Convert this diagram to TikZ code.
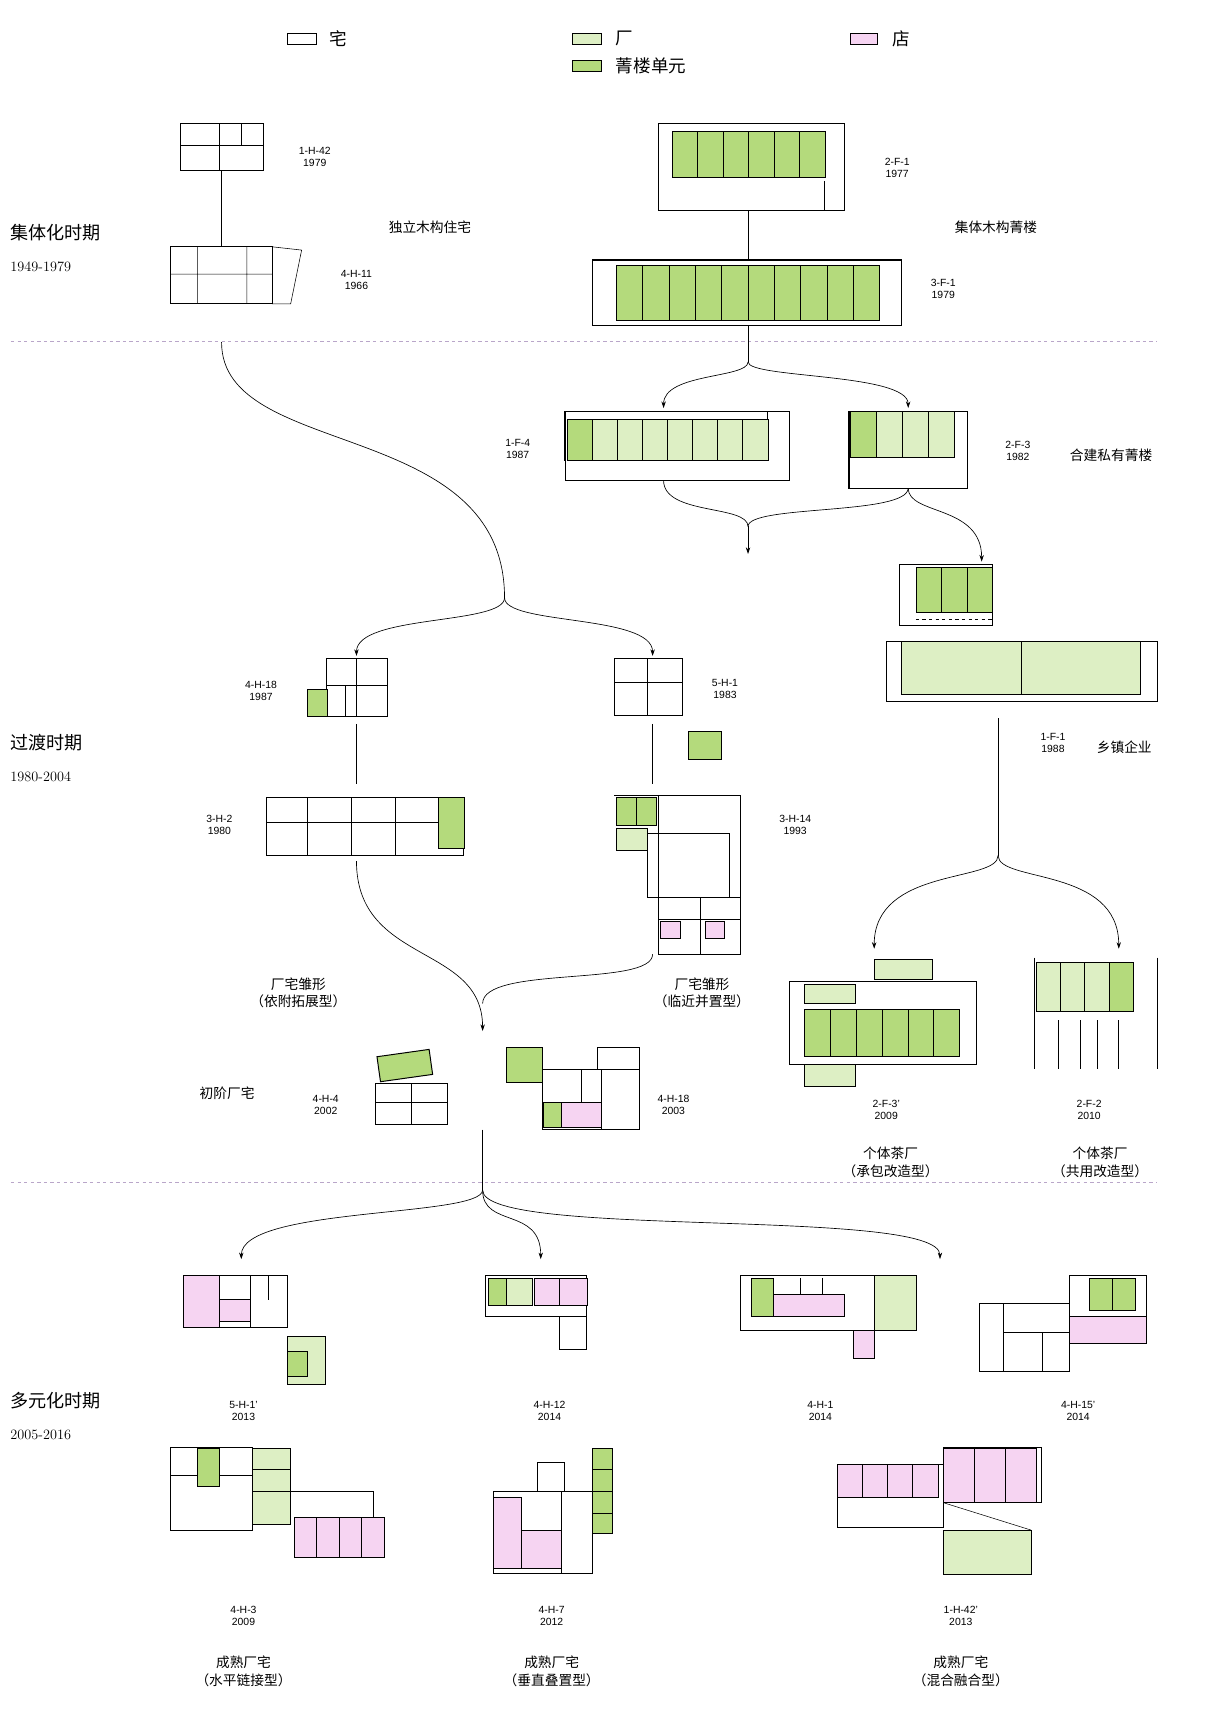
\documentclass[tikz,border=0pt]{standalone}
\usepackage{fontspec}
\newfontfamily\cjk{Noto Sans CJK SC}
\setsansfont{Liberation Sans}
\usetikzlibrary{arrows.meta}
\definecolor{lg}{HTML}{DDEFC4}
\definecolor{dg}{HTML}{B4DA7C}
\definecolor{pk}{HTML}{F6D4F2}
\definecolor{dl}{HTML}{B9A6C9}
\tikzset{
 plan/.style={draw=black,line width=0.9pt},
 wall/.style={draw=black,line width=0.5pt},
 lab/.style={font=\sffamily\fontsize{9.5}{11}\selectfont,align=center},
 cn/.style={font=\cjk\fontsize{12.5}{16}\selectfont,align=center},
 leg/.style={font=\cjk\fontsize{16}{18}\selectfont},
 per/.style={font=\cjk\fontsize{16.5}{18}\selectfont},
 yr/.style={font=\rmfamily\fontsize{13}{15}\selectfont},
 con/.style={line width=0.6pt},
 arr/.style={con,-{Stealth[length=6pt,width=4pt]}},
}
\newcommand\cellrow[6]{%
 \pgfmathsetmacro\cwid{(#3-#1)/#5}%
 \foreach \i in {1,...,#5}{\draw[wall,fill=#6] ({#1+(\i-1)*\cwid},#2) rectangle ({#1+\i*\cwid},#4);}}
\begin{document}
\begin{tikzpicture}[x=1pt,y=-1pt]
\useasboundingbox[fill=white] (0,0) rectangle (1110,1570);
% legend
\draw[wall] (262,30) rectangle (288,40); \node[leg,anchor=west] (l1) at (297,35) {宅};
\draw[wall,fill=lg] (522,30) rectangle (548,40); \node[leg,anchor=west] (l2) at (558,35) {厂};
\draw[wall,fill=dg] (522,55) rectangle (548,65); \node[leg,anchor=west] (l3) at (558,60) {菁楼单元};
\draw[wall,fill=pk] (775,30) rectangle (800,40); \node[leg,anchor=west] (l4) at (810,35) {店};
% periods
\node[per,anchor=west] (p1) at (6,212) {集体化时期}; \node[yr,anchor=west] (y1) at (6,243) {1949-1979};
\node[per,anchor=west] (p2) at (6,677) {过渡时期}; \node[yr,anchor=west] (y2) at (6,708) {1980-2004};
\node[per,anchor=west] (p3) at (6,1277) {多元化时期}; \node[yr,anchor=west] (y3) at (6,1308) {2005-2016};
\draw[dl,dashed,line width=0.6pt] (10,311) -- (1055,311);
\draw[dl,dashed,line width=0.6pt] (10,1078) -- (1055,1078);
% period 1
\draw[plan] (165,113) rectangle (240,155); \draw[wall] (200,113)--(200,155) (165,132)--(240,132) (220,113)--(220,132);
\node[lab] (a1) at (287,143) {1-H-42\\1979};
\draw[plan] (155,225) rectangle (248,277); \draw[wall] (248,225)--(275,228)--(265,277)--(248,277) (155,250)--(248,250) (180,225)--(180,277) (225,225)--(225,277);
\node[lab] (a2) at (325,255) {4-H-11\\1966};
\coordinate (h42b) at (202,155); \coordinate (h11t) at (202,225);
\draw[con] (h42b)--(h11t);
\node[cn] (t1) at (392,207) {独立木构住宅};
\draw[wall] (600,112) rectangle (770,192); \draw[plan] (752,165)--(752,192)--(600,192);
\cellrow{613}{120}{752}{162}{6}{dg}
\node[lab] (a3) at (818,153) {2-F-1\\1977};
\draw[wall] (540,237) rectangle (822,297); \draw[plan] (540,237)--(822,237) (540,297)--(822,297);
\cellrow{562}{242}{802}{292}{10}{dg}
\node[lab] (a4) at (860,263) {3-F-1\\1979};
\coordinate (f1b) at (682,192); \coordinate (f3t) at (682,237);
\draw[con] (f1b)--(f3t);
\node[cn] (t2) at (908,207) {集体木构菁楼};
% period 2
\coordinate (f3b) at (682,297); \coordinate (sp1) at (682,330);
\coordinate (f4t) at (605,372); \coordinate (f23t) at (828,372);
\draw[con] (f3b)--(sp1);
\draw[arr] (sp1) .. controls (682,345) and (605,340) .. (f4t);
\draw[arr] (sp1) .. controls (682,345) and (828,340) .. (f23t);
\draw[wall] (515,375) rectangle (720,438); \draw[plan] (515,420)--(515,375)--(700,375)--(700,420);
\cellrow{517}{382}{700}{420}{8}{lg}
\draw[wall,fill=dg] (517,382) rectangle (540,420);
\node[lab] (a5) at (472,409) {1-F-4\\1987};
\draw[wall] (774,375) rectangle (882,445); \draw[plan] (774,375)--(774,445)--(870,445);
\cellrow{775}{375}{870}{417}{4}{lg}
\draw[wall,fill=dg] (775,375) rectangle (798.75,417);
\node[lab] (a6) at (928,411) {2-F-3\\1982};
\node[cn] (t3) at (1013,415) {合建私有菁楼};
\coordinate (f4b) at (605,438); \coordinate (f23b) at (828,445); \coordinate (mg) at (682,480); \coordinate (mgb) at (682,505);
\draw[con] (f4b) .. controls (605,470) and (682,460) .. (mg);
\draw[con] (f23b) .. controls (828,470) and (682,460) .. (mg);
\draw[arr] (mg)--(mgb);
\coordinate (f11t) at (895,512);
\draw[arr] (f23b) .. controls (828,470) and (895,460) .. (f11t);
% 1-F-1
\draw[plan] (820,515) rectangle (905,570);
\cellrow{835}{517}{905}{558}{3}{dg}
\draw[wall,dashed] (835,565)--(905,565);
\draw[plan] (808,585) rectangle (1055,640);
\cellrow{822}{585}{1040}{633}{2}{lg}
\node[lab] (a7) at (960,677) {1-F-1\\1988};
\node[cn] (t4) at (1025,681) {乡镇企业};
% left branch
\coordinate (h11b) at (202,312); \coordinate (jn) at (460,545);
\draw[con] (h11b) .. controls (202,420) and (460,380) .. (jn);
\coordinate (h18t) at (325,598); \coordinate (h51t) at (595,598);
\draw[arr] (jn) .. controls (460,570) and (325,560) .. (h18t);
\draw[arr] (jn) .. controls (460,570) and (595,560) .. (h51t);
\draw[plan] (298,600) rectangle (353,653); \draw[wall] (298,625)--(353,625) (325,600)--(325,653) (315,625)--(315,653);
\draw[wall,fill=dg] (280,628) rectangle (298,653);
\node[lab] (a8) at (238,630) {4-H-18\\1987};
\draw[wall] (560,600) rectangle (622,652); \draw[wall] (560,622)--(622,622) (590,600)--(590,652);
\node[lab] (a9) at (661,628) {5-H-1\\1983};
\draw[plan,fill=dg] (628,667) rectangle (658,692);
\coordinate (h18b) at (325,660); \coordinate (h32t) at (325,715);
\coordinate (h51b) at (595,660); \coordinate (h14t) at (595,715);
\draw[con] (h18b)--(h32t); \draw[con] (h51b)--(h14t);
\draw[plan] (243,727) rectangle (423,780); \draw[wall] (243,750)--(423,750) (280,727)--(280,780) (320,727)--(320,780) (360,727)--(360,780);
\draw[wall,fill=dg] (400,727) rectangle (423,773);
\node[lab] (a10) at (200,752) {3-H-2\\1980};
\draw[wall] (560,725) -- (675,725) -- (675,870) -- (600,870) -- (600,725);
\draw[wall] (590,760) rectangle (665,818);
\cellrow{562}{727}{598}{752}{2}{dg}
\draw[wall,fill=lg] (562,755) rectangle (590,775);
\draw[plan] (600,818) rectangle (675,870); \draw[wall] (600,838)--(675,838) (638,818)--(638,870);
\draw[wall,fill=pk] (602,840) rectangle (620,855); \draw[wall,fill=pk] (643,840) rectangle (660,855);
\node[lab] (a11) at (725,752) {3-H-14\\1993};
\coordinate (h32b) at (325,785); \coordinate (h14b) at (595,870); \coordinate (jn2) at (440,940);
\draw[arr] (h32b) .. controls (325,880) and (440,860) .. (jn2);
\draw[con] (h14b) .. controls (595,900) and (440,880) .. (440,915);
\node[cn] (t5) at (272,905) {厂宅雏形\\（依附拓展型）};
\node[cn] (t6) at (640,905) {厂宅雏形\\（临近并置型）};
\draw[plan] (342,988) rectangle (408,1025); \draw[wall] (375,988)--(375,1025) (342,1005)--(408,1005);
\draw[plan,fill=dg,rotate around={8:(369,971)}] (345,960) rectangle (393,983);
\node[lab] (a12) at (297,1007) {4-H-4\\2002};
\node[cn] (t7) at (207,997) {初阶厂宅};
\draw[wall,fill=dg] (462,955) rectangle (494,987);
\draw[plan] (495,975) rectangle (583,1030); \draw[plan] (545,955) rectangle (583,975);
\draw[wall,fill=dg] (495,1005) rectangle (512,1028);
\draw[wall,fill=pk] (512,1005) rectangle (548,1028);
\draw[wall] (530,975)--(530,1005) (548,975)--(548,1030);
\node[lab] (a13) at (614,1007) {4-H-18\\2003};
% right branch
\coordinate (f11b) at (910,655); \coordinate (jn3) at (910,780);
\draw[con] (f11b)--(jn3);
\coordinate (f3pt) at (797,865); \coordinate (f22t) at (1020,865);
\draw[arr] (jn3) .. controls (910,805) and (797,790) .. (f3pt);
\draw[arr] (jn3) .. controls (910,805) and (1020,790) .. (f22t);
\draw[wall] (720,895) rectangle (890,970);
\draw[wall,fill=lg] (797,875) rectangle (850,893);
\cellrow{733}{920}{875}{963}{6}{dg}
\draw[wall,fill=lg] (733,970) rectangle (780,990);
\draw[wall,fill=lg] (733,897) rectangle (780,915);
\node[lab] (a14) at (808,1012) {2-F-3'\\2009};
\node[cn] (t8) at (812,1060) {个体茶厂\\（承包改造型）};
\draw[plan] (943,873)--(943,975) (1055,873)--(1055,975);
\cellrow{945}{877}{1033}{922}{4}{lg}
\draw[wall,fill=dg] (1011,877) rectangle (1033,922);
\foreach \xx in {965,985,1000,1020} \draw[wall] (\xx,930)--(\xx,975);
\node[lab] (a15) at (993,1012) {2-F-2\\2010};
\node[cn] (t9) at (1003,1060) {个体茶厂\\（共用改造型）};
% period 3
\coordinate (jn4a) at (440,1030); \coordinate (jn4) at (440,1085);
\draw[con] (jn4a)--(jn4);
\coordinate (b1) at (220,1148); \coordinate (b2) at (493,1148); \coordinate (b3) at (857,1148);
\draw[arr] (jn4) .. controls (440,1110) and (220,1100) .. (b1);
\draw[arr] (jn4) .. controls (440,1120) and (493,1100) .. (b2);
\draw[arr] (jn4) .. controls (440,1130) and (857,1100) .. (b3);
% 5-H-1'
\draw[plan] (167,1163) rectangle (262,1210);
\draw[wall,fill=pk] (167,1163) rectangle (200,1210);
\draw[wall,fill=pk] (200,1185) rectangle (228,1205);
\draw[wall] (228,1163)--(228,1210) (245,1163)--(245,1185);
\draw[wall,fill=lg] (262,1218) rectangle (297,1262);
\draw[wall,fill=dg] (262,1232) rectangle (280,1255);
\node[lab] (a16) at (222,1286) {5-H-1'\\2013};
% 4-H-12
\draw[plan] (443,1163) rectangle (535,1200); \draw[plan] (510,1200) rectangle (535,1230);
\draw[wall,fill=dg] (445,1165) rectangle (462,1190);
\draw[wall,fill=lg] (462,1165) rectangle (485,1190);
\draw[wall,fill=pk] (487,1165) rectangle (510,1190);
\draw[wall,fill=pk] (510,1165) rectangle (535,1190);
\node[lab] (a17) at (501,1286) {4-H-12\\2014};
% 4-H-1
\draw[plan] (675,1163) rectangle (797,1213);
\draw[wall,fill=dg] (685,1165) rectangle (705,1200);
\draw[wall,fill=pk] (705,1180) rectangle (770,1200);
\draw[wall] (730,1165)--(730,1180) (750,1165)--(750,1180);
\draw[wall,fill=lg] (797,1163) rectangle (835,1213);
\draw[wall,fill=pk] (778,1213) rectangle (797,1238);
\node[lab] (a18) at (748,1286) {4-H-1\\2014};
% 4-H-15'
\draw[plan] (893,1188) rectangle (975,1250);
\draw[wall] (915,1188)--(915,1250) (915,1215)--(975,1215) (950,1215)--(950,1250);
\draw[wall] (975,1163) rectangle (1045,1200);
\cellrow{993}{1165}{1035}{1195}{2}{dg}
\draw[wall,fill=pk] (975,1200) rectangle (1045,1225);
\node[lab] (a19) at (983,1286) {4-H-15'\\2014};
% 4-H-3
\draw[plan] (155,1320) rectangle (230,1395);
\draw[wall,fill=dg] (180,1320) rectangle (200,1355);
\draw[wall] (155,1345)--(180,1345) (200,1345)--(230,1345);
\draw[wall,fill=lg] (230,1320) rectangle (265,1390);
\draw[wall] (230,1340)--(265,1340) (230,1360)--(265,1360);
\draw[wall] (265,1360)--(340,1360)--(340,1383);
\cellrow{268}{1383}{350}{1420}{4}{pk}
\node[lab] (a20) at (222,1473) {4-H-3\\2009};
\node[cn] (t10) at (222,1524) {成熟厂宅\\（水平链接型）};
% 4-H-7
\draw[plan] (490,1333) rectangle (515,1360);
\draw[wall,fill=dg] (540,1320) rectangle (558,1398);
\draw[wall] (540,1340)--(558,1340) (540,1360)--(558,1360) (540,1380)--(558,1380);
\draw[plan] (450,1360) rectangle (540,1435);
\draw[wall,fill=pk] (450,1365) rectangle (475,1430);
\draw[wall,fill=pk] (475,1395) rectangle (512,1430);
\draw[wall] (512,1360)--(512,1435);
\node[lab] (a21) at (503,1473) {4-H-7\\2012};
\node[cn] (t11) at (503,1524) {成熟厂宅\\（垂直叠置型）};
% 1-H-42'
\draw[wall] (763,1335) rectangle (860,1392);
\cellrow{763}{1335}{855}{1365}{4}{pk}
\draw[plan] (860,1320) rectangle (950,1370);
\cellrow{860}{1320}{945}{1370}{3}{pk}
\draw[wall] (860,1370)--(940,1395);
\draw[wall,fill=lg] (860,1395) rectangle (940,1435);
\node[lab] (a22) at (876,1473) {1-H-42'\\2013};
\node[cn] (t12) at (876,1524) {成熟厂宅\\（混合融合型）};
\end{tikzpicture}
\end{document}
